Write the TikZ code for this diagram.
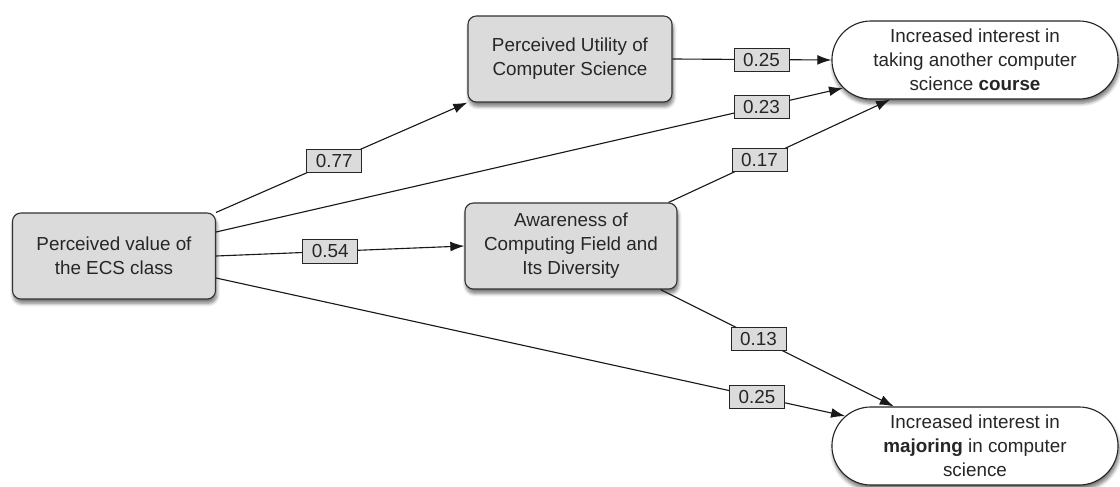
\documentclass[tikz,border=0pt]{standalone}
\usepackage{fontspec}
\setmainfont{Liberation Sans}
\usetikzlibrary{shapes.misc,shadows,shadows.blur,arrows.meta,calc}
\begin{document}
\begin{tikzpicture}[x=0.025cm,y=-0.025cm,
  every node/.style={font=\fontsize{13.4}{17}\selectfont, align=center, text=black!85},
  shd/.style={blur shadow={shadow xshift=0.8pt, shadow yshift=-3pt, shadow blur steps=6,
    shadow blur radius=2.5pt, shadow opacity=55}},
  box/.style={draw=black!80, line width=0.8pt, fill=black!14, rounded corners=6pt,
    minimum height=2.15cm, inner sep=0pt, shd},
  pill/.style={rounded rectangle, draw=black!85, line width=0.8pt, fill=white,
    minimum width=7.15cm, minimum height=1.95cm, inner sep=0pt, shd},
  wt/.style={draw=black!85, fill=black!14, line width=0.6pt, minimum width=1.375cm,
    minimum height=0.58cm, inner sep=0pt},
  arr/.style={draw=black!90, line width=0.8pt, -{Latex[length=10pt,width=7pt]}}
]
\useasboundingbox (0,0) rectangle (1120,487);

\node[box, minimum width=5.075cm] (ecs) at (114,256) {Perceived value of\\the ECS class};
\node[box, minimum width=5.1cm] (util) at (570,59) {Perceived Utility of\\Computer Science};
\node[box, minimum width=5.3cm] (aware) at (571,246) {Awareness of\\Computing Field and\\Its Diversity};
\node[pill] (course) at (975,60) {Increased interest in\\taking another computer\\science \textbf{course}};
\node[pill] (major) at (975,446) {Increased interest in\\\textbf{majoring} in computer\\science};

\draw[arr] (ecs.north east) -- node[wt, pos=0.47] (w1) {0.77} (util.south west);
\draw[arr] (util.east) -- node[wt, pos=0.56] (w2) {0.25} (course.west);
\draw[arr] ($(ecs.east)+(0,-24)$) -- node[wt, pos=0.87] (w3) {0.23} (course.192);
\draw[arr] ($(aware.north east)+(-9,0)$) -- node[wt, pos=0.41] (w4) {0.17} (course.205);
\draw[arr] (ecs.east) -- node[wt, pos=0.46] (w5) {0.54} (aware.west);
\draw[arr] ($(aware.south east)+(-17,0)$) -- node[wt, pos=0.42] (w6) {0.13} (major.154);
\draw[arr] ($(ecs.east)+(0,22)$) -- node[wt, pos=0.86] (w7) {0.25} (major.167);
\end{tikzpicture}
\end{document}
